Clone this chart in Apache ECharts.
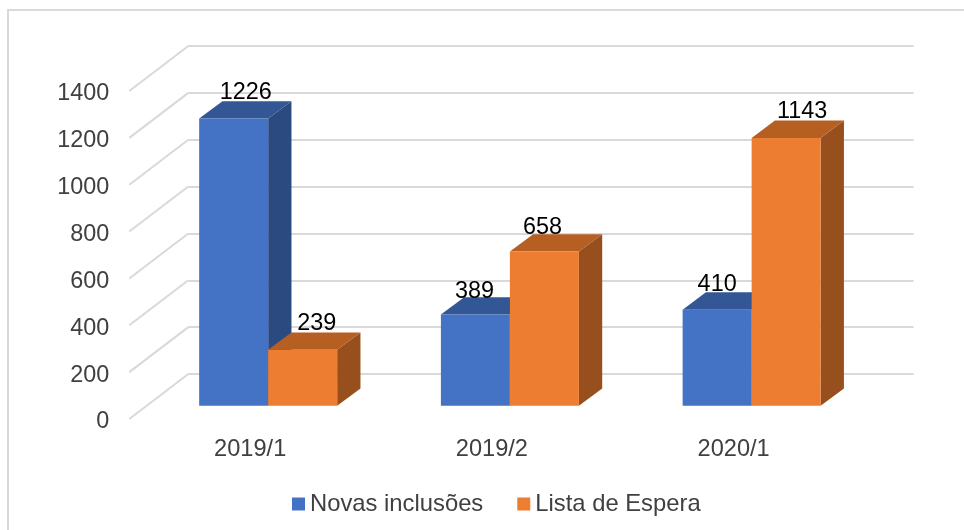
<!DOCTYPE html>
<html>
<head>
<meta charset="utf-8">
<style>
  html, body { margin: 0; padding: 0; background: #fff; }
  #chart { width: 964px; height: 530px; }
</style>
<script src="https://cdn.jsdelivr.net/npm/echarts@6/dist/echarts.min.js"></script>
</head>
<body>
<div id="chart"></div>
<script>
const categories = ['2019/1', '2019/2', '2020/1'];
const novasInclusoes = [1226, 389, 410];
const listaEspera = [239, 658, 1143];
const yTicks = [0, 200, 400, 600, 800, 1000, 1200, 1400];

const font = '"Liberation Sans", Arial, sans-serif';
const gridColor = '#d9d9d9';
const textColor = '#404040';

const chart = echarts.init(document.getElementById('chart'));

// the fake 3D: front plane is grid 0, back wall is grid 1
const wallDx = 59, wallDy = 45;
const barDx = 18, barDy = 13.3;
const depthDx = 23.3, depthDy = 17.3;

// the value labels were nudged by hand in the original, so they don't all sit the same way
function boxRenderer(side, colors, labelShift) {
  return function(params, api) {
    const w = 69;
    const p = api.coord([api.value(0), api.value(1)]);
    const base = api.coord([api.value(0), 0]);
    const x0 = p[0] + barDx + (side < 0 ? -w : 0);
    const x1 = x0 + w;
    const yTop = p[1] - barDy;
    const yBase = base[1] - barDy;
    const shift = labelShift[params.dataIndex];
    return {
      type: 'group',
      children: [
        {
          type: 'polygon',
          shape: { points: [[x1, yTop], [x1 + depthDx, yTop - depthDy], [x1 + depthDx, yBase - depthDy], [x1, yBase]] },
          style: { fill: colors.side }
        },
        {
          type: 'polygon',
          shape: { points: [[x0, yTop], [x0 + depthDx, yTop - depthDy], [x1 + depthDx, yTop - depthDy], [x1, yTop]] },
          style: { fill: colors.top }
        },
        {
          type: 'rect',
          shape: { x: x0, y: yTop, width: w, height: yBase - yTop },
          style: { fill: colors.front }
        },
        {
          type: 'text',
          x: x0 + w / 2 + shift[0],
          y: yTop - 25.5 + shift[1],
          style: {
            text: String(api.value(1)),
            fill: '#000',
            font: '23.4px ' + font,
            align: 'center',
            verticalAlign: 'middle'
          }
        }
      ]
    };
  };
}

chart.setOption({
  animation: false,
  backgroundColor: '#fff',
  graphic: [{
    type: 'polyline',
    shape: { points: [[8, 530], [8, 10], [964, 10]] },
    style: { stroke: gridColor, lineWidth: 2, fill: 'none' },
    z: -1
  }],
  legend: {
    left: 292,
    top: 492,
    padding: 0,
    icon: 'rect',
    itemWidth: 13,
    itemHeight: 13,
    itemGap: 34,
    textStyle: { fontFamily: font, fontSize: 23.8, color: textColor },
    data: ['Novas inclusões', 'Lista de Espera']
  },
  grid: [
    { left: 129.3, right: 109.5, top: 91, bottom: 111 },
    { left: 188.3, right: 50.5, top: 46, bottom: 156 }
  ],
  xAxis: [
    {
      type: 'category',
      gridIndex: 0,
      data: categories,
      axisLine: { show: false },
      axisTick: { show: false },
      axisLabel: { color: textColor, fontFamily: font, fontSize: 23.6, margin: 18 }
    },
    {
      type: 'category',
      gridIndex: 1,
      data: categories,
      axisLine: { show: false },
      axisTick: { show: false },
      axisLabel: { show: false }
    }
  ],
  yAxis: [
    {
      type: 'value',
      gridIndex: 0,
      min: 0,
      max: 1400,
      interval: 200,
      axisLine: { show: false },
      axisTick: { show: false },
      splitLine: { show: false },
      axisLabel: {
        color: textColor,
        fontFamily: font,
        fontSize: 23.4,
        margin: 20,
        verticalAlign: 'top',
        lineHeight: 6,
        formatter: function(v) { return String(v); }
      }
    },
    {
      type: 'value',
      gridIndex: 1,
      min: 0,
      max: 1400,
      interval: 200,
      axisLine: { show: false },
      axisTick: { show: false },
      axisLabel: { show: false },
      splitLine: { lineStyle: { color: gridColor, width: 2 } }
    }
  ],
  series: [
    {
      // side wall lines going from the tick labels back to the wall
      type: 'custom',
      name: 'paredes',
      xAxisIndex: 0,
      yAxisIndex: 0,
      silent: true,
      z: 1,
      data: yTicks.map(v => [0, v]),
      renderItem: function(params, api) {
        const y = api.coord([0, api.value(1)])[1];
        const x = params.coordSys.x;
        return {
          type: 'line',
          shape: { x1: x, y1: y, x2: x + wallDx, y2: y - wallDy },
          style: { stroke: gridColor, lineWidth: 2 }
        };
      }
    },
    {
      type: 'custom',
      name: 'Novas inclusões',
      xAxisIndex: 0,
      yAxisIndex: 0,
      z: 2,
      itemStyle: { color: '#4472C4' },
      data: novasInclusoes.map((v, i) => [i, v]),
      renderItem: boxRenderer(-1, { front: '#4472C4', top: '#335694', side: '#2B4A80' }, [[12, 0], [-1, 2], [0, 0]])
    },
    {
      type: 'custom',
      name: 'Lista de Espera',
      xAxisIndex: 0,
      yAxisIndex: 0,
      z: 3,
      itemStyle: { color: '#ED7D31' },
      data: listaEspera.map((v, i) => [i, v]),
      renderItem: boxRenderer(1, { front: '#ED7D31', top: '#B55F23', side: '#974F1D' }, [[14, -1], [-2, 2], [16, -1]])
    }
  ]
});

window.addEventListener('resize', function() {
  chart.resize();
});
</script>
</body>
</html>
